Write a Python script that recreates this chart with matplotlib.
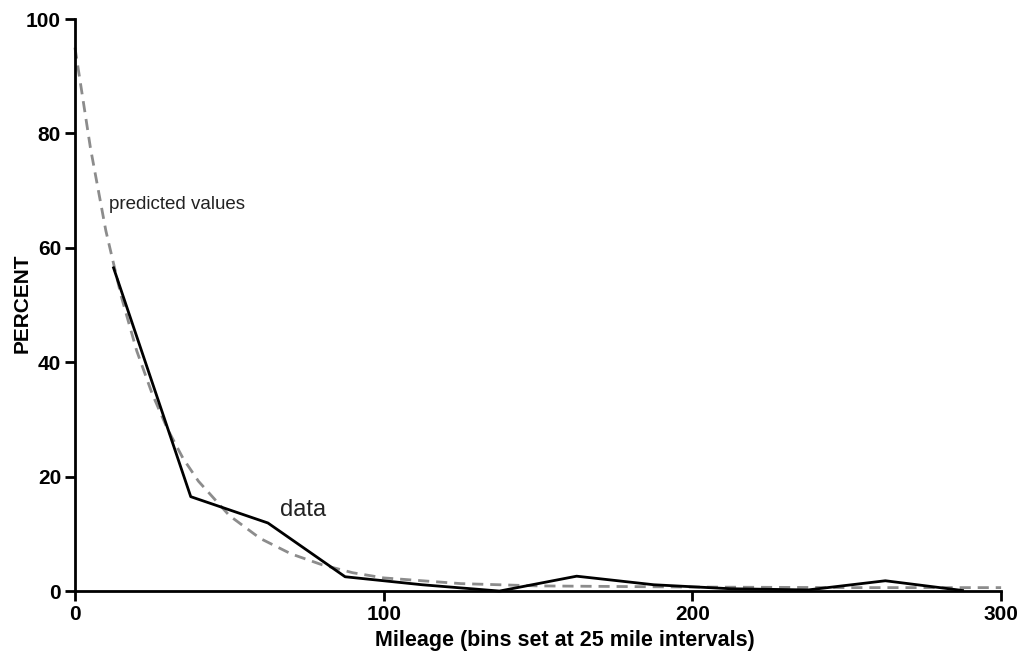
import matplotlib
matplotlib.use('Agg')
import matplotlib.pyplot as plt

# observed percentages at the bin centres (25 mile bins)
bin_mid = [12.5, 37.5, 62.5, 87.5, 112.5, 137.5, 162.5, 187.5, 212.5, 237.5, 262.5, 287.5]
percent = [56.5, 16.5, 11.9, 2.5, 1.1, 0.0, 2.6, 1.1, 0.4, 0.2, 1.8, 0.1]

# fitted curve
fit_x = [0, 5, 10, 15, 20, 25, 30, 35, 40, 50, 60, 70, 80, 90, 100, 125, 150, 200, 250, 300]
fit_y = [95.0, 77.5, 63.0, 51.5, 42.0, 34.5, 28.3, 23.2, 19.2, 13.2, 9.2, 6.5, 4.6, 3.2, 2.3, 1.3, 0.9, 0.7, 0.6, 0.6]

plt.rcParams['font.family'] = ['Liberation Sans', 'DejaVu Sans']

fig = plt.figure(figsize=(10.2, 6.56), dpi=100)
ax = fig.add_axes([0.0735, 0.099, 0.908, 0.872])

ax.plot(fit_x, fit_y, color='#8c8c8c', lw=2, ls=(0, (4, 2.5)), clip_on=False, zorder=2)
ax.plot(bin_mid, percent, color='black', lw=2, clip_on=False, zorder=3)

ax.set_xlim(0, 300)
ax.set_ylim(0, 100)
ax.set_xticks([0, 100, 200, 300])
ax.set_yticks([0, 20, 40, 60, 80, 100])
for s in ['top', 'right']:
  ax.spines[s].set_visible(False)
for s in ['left', 'bottom']:
  ax.spines[s].set_linewidth(2)
ax.tick_params(width=2, length=7, labelsize=15, pad=3)
for lab in ax.get_xticklabels() + ax.get_yticklabels():
  lab.set_fontweight('bold')

ax.set_xlabel('Mileage (bins set at 25 mile intervals)', fontsize=15.5, fontweight='bold')
ax.xaxis.set_label_coords(0.529, -0.086, transform=ax.transAxes)
ax.xaxis.label.set_va('center')
ax.set_ylabel('PERCENT', fontsize=15, fontweight='bold')
ax.yaxis.set_label_coords(-0.057, 0.503, transform=ax.transAxes)
ax.yaxis.label.set_va('center')

ax.text(11, 67.5, 'predicted values', fontsize=13.5, color='#222222', va='center')
ax.text(66.5, 14.2, 'data', fontsize=17, color='#222222', va='center')

fig.savefig('out.png', dpi=100)
